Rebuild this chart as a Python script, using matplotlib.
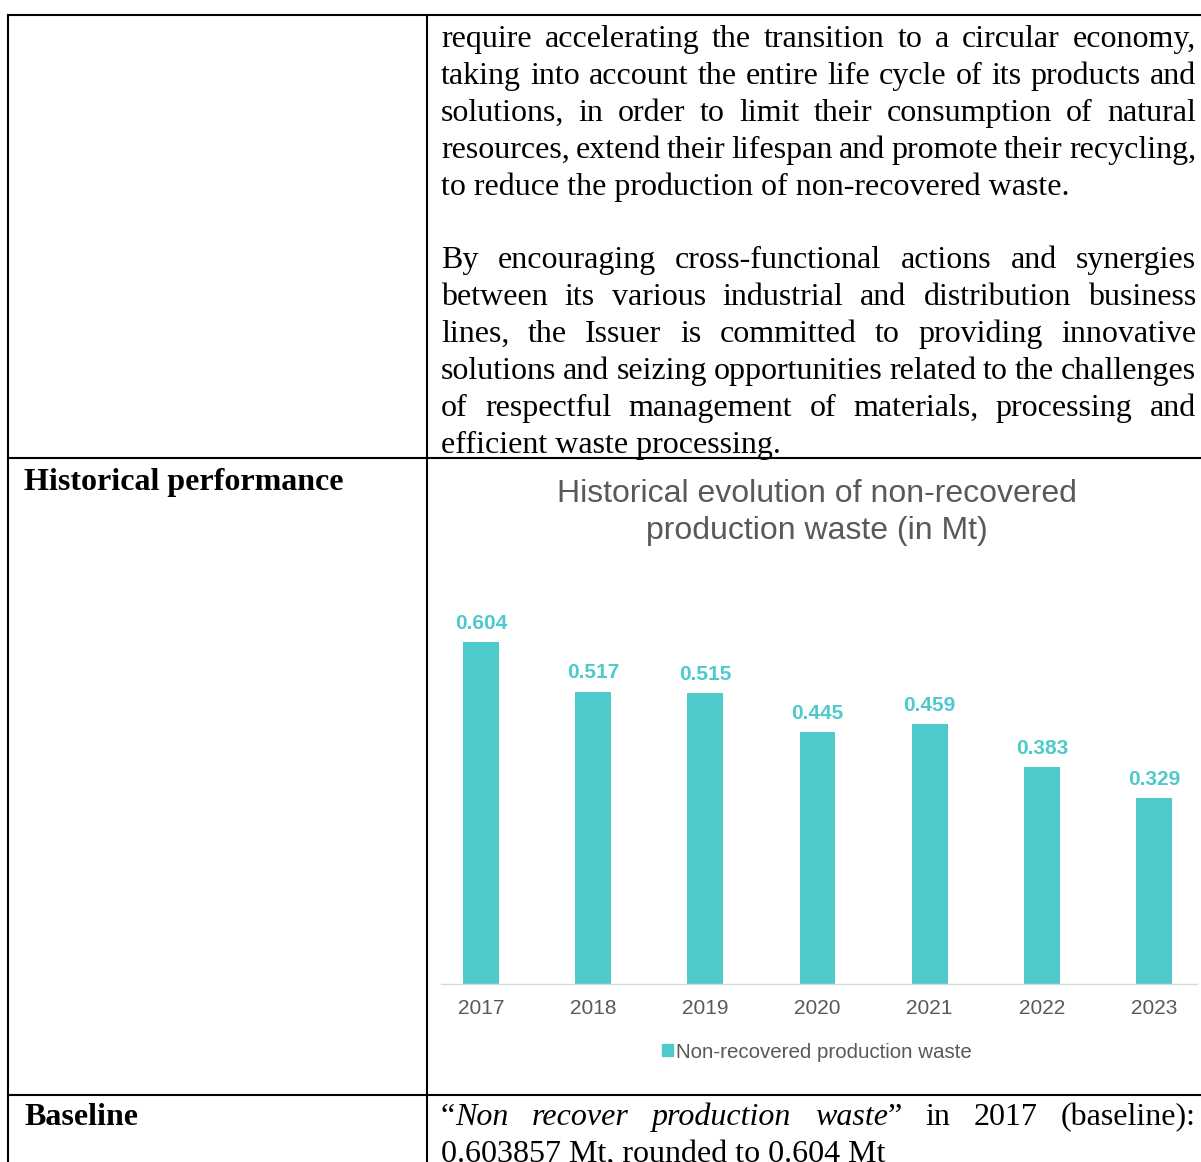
import matplotlib
matplotlib.use("Agg")
import matplotlib.pyplot as plt
from matplotlib.lines import Line2D
from matplotlib.patches import Patch

# chart data
years = ["2017", "2018", "2019", "2020", "2021", "2022", "2023"]
waste_mt = [0.604, 0.517, 0.515, 0.445, 0.459, 0.383, 0.329]
series_name = "Non-recovered production waste"
title_lines = ["Historical evolution of non-recovered", "production waste (in Mt)"]

# document text
para1 = [
    "require accelerating the transition to a circular economy,",
    "taking into account the entire life cycle of its products and",
    "solutions, in order to limit their consumption of natural",
    "resources, extend their lifespan and promote their recycling,",
    "to reduce the production of non-recovered waste.",
]
para2 = [
    "By encouraging cross-functional actions and synergies",
    "between its various industrial and distribution business",
    "lines, the Issuer is committed to providing innovative",
    "solutions and seizing opportunities related to the challenges",
    "of respectful management of materials, processing and",
    "efficient waste processing.",
]
row_headers = ["Historical performance", "Baseline"]
baseline_line1 = [[("\u201c", "normal"), ("Non", "italic")], [("recover", "italic")],
                  [("production", "italic")], [("waste", "italic"), ("\u201d", "normal")],
                  [("in", "normal")], [("2017", "normal")], [("(baseline):", "normal")]]
baseline_line2 = "0.603857 Mt, rounded to 0.604 Mt"

W, H = 1201, 1162
TEAL = "#4EC9CC"
GREY = "#595959"
SERIF = "Liberation Serif"
SANS = "Liberation Sans"
BODY_SIZE = 23

fig = plt.figure(figsize=(W / 100, H / 100), dpi=100)
renderer = fig.canvas.get_renderer()


def fx(x):
    return x / W


def fy(y):
    return 1 - y / H


def put(x, y, s, **kw):
    return fig.text(fx(x), fy(y), s, va="baseline", ha="left", **kw)


def justified(words, x0, x1, y, size):
    # words: list of segment lists [(text, style), ...]
    placed = []
    widths = []
    for word in words:
        segs = []
        w = 0
        for s, style in word:
            t = put(0, y, s, family=SERIF, fontsize=size, style=style)
            sw = t.get_window_extent(renderer).width
            segs.append((t, sw))
            w += sw
        placed.append(segs)
        widths.append(w)
    gap = (x1 - x0 - sum(widths)) / max(len(words) - 1, 1)
    x = x0
    for segs, w in zip(placed, widths):
        cx = x
        for t, sw in segs:
            t.set_x(fx(cx))
            cx += sw
        x += w + gap


TXT_L, TXT_R = 441, 1196
line_h = 36.9
y = 47
for i, line in enumerate(para1):
    if i < len(para1) - 1:
        justified([[(w, "normal")] for w in line.split()], TXT_L, TXT_R, y, BODY_SIZE)
    else:
        put(TXT_L, y, line, family=SERIF, fontsize=BODY_SIZE)
    y += line_h
y += line_h
for i, line in enumerate(para2):
    if i < len(para2) - 1:
        justified([[(w, "normal")] for w in line.split()], TXT_L, TXT_R, y, BODY_SIZE)
    else:
        put(TXT_L, y, line, family=SERIF, fontsize=BODY_SIZE)
    y += line_h

put(24, 490, row_headers[0], family=SERIF, fontsize=BODY_SIZE, weight="bold")
put(24, 1125, row_headers[1], family=SERIF, fontsize=BODY_SIZE, weight="bold")
justified(baseline_line1, TXT_L, TXT_R, 1125, BODY_SIZE)
put(TXT_L, 1162, baseline_line2, family=SERIF, fontsize=BODY_SIZE)

# table rules
lw = 1.5
for (xa, xb, ya, yb) in [(8, W, 15, 15), (8, W, 458, 458), (8, W, 1095, 1095),
                         (8, 8, 15, H), (427, 427, 15, H)]:
    fig.add_artist(Line2D([fx(xa), fx(xb)], [fy(ya), fy(yb)], color="black", lw=lw))

# bar chart
ax = fig.add_axes([fx(441), fy(984), fx(1197) - fx(441), fy(588) - fy(984)])
xs = range(len(years))
ax.bar(xs, waste_mt, width=0.32, color=TEAL)
for x, v in zip(xs, waste_mt):
    ax.annotate(f"{v:.3f}", (x, v), xytext=(0, 6.5), textcoords="offset points",
                ha="center", va="bottom", color=TEAL, fontsize=15,
                fontweight="bold", family=SANS)
ax.set_xlim(-40 / 112, 6 + 43 / 112)
ax.set_ylim(0, 0.7)
ax.set_xticks(list(xs))
ax.set_xticklabels(years, family=SANS, fontsize=15, color=GREY)
ax.tick_params(axis="x", length=0, pad=10.5)
ax.set_yticks([])
for side in ["top", "left", "right"]:
    ax.spines[side].set_visible(False)
ax.spines["bottom"].set_color("#D9D9D9")
ax.spines["bottom"].set_linewidth(1)
ax.patch.set_alpha(0)

for ty, line in zip([502, 539], title_lines):
    fig.text(fx(817), fy(ty), line, ha="center", va="baseline",
             family=SANS, fontsize=23, color=GREY)

ax.legend(handles=[Patch(color=TEAL, label=series_name)], loc="center",
          bbox_to_anchor=(fx(817), fy(1052)), bbox_transform=fig.transFigure,
          frameon=False, handlelength=0.55, handleheight=0.55, handletextpad=0.15,
          prop={"family": SANS, "size": 14.8}, labelcolor=GREY)

fig.savefig("out.png", dpi=100)
